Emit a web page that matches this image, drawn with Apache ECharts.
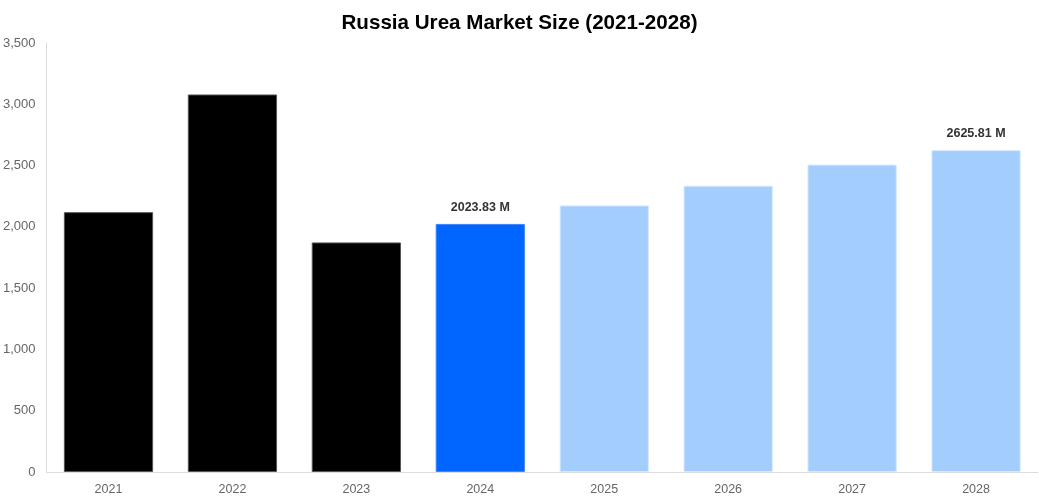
<!DOCTYPE html>
<html>
<head>
<meta charset="utf-8">
<script src="https://cdn.jsdelivr.net/npm/echarts@6/dist/echarts.min.js"></script>
<style>
  html, body { margin: 0; padding: 0; background: #fff; }
  #chart { width: 1039px; height: 500px; }
</style>
</head>
<body>
<div id="chart"></div>
<script>
// data
var years = ['2021', '2022', '2023', '2024', '2025', '2026', '2027', '2028'];
var values = [2120, 3080, 1873, 2023.83, 2175, 2336, 2508, 2625.81];
var yTicks = [0, 500, 1000, 1500, 2000, 2500, 3000, 3500];
var labelled = ['2024', '2028'];

var colorFor = function (i) {
    if (i < 3) return { fill: '#000000', border: '#555555' };
    if (i === 3) return { fill: '#0066ff', border: '#3d86ff' };
    return { fill: '#a2cdfd', border: '#d6e9ff' };
};

var chart = echarts.init(document.getElementById('chart'));
var option = {
    animation: false,
    title: {
        text: 'Russia Urea Market Size (2021-2028)',
        left: 'center',
        top: 8,
        textStyle: { fontFamily: 'Liberation Sans, Arial, sans-serif', fontSize: 20.6, fontWeight: 'bold', color: '#000' }
    },
    grid: { left: 45, right: 1, top: 43, bottom: 28 },
    xAxis: {
        type: 'category',
        data: years,
        axisLine: { lineStyle: { color: '#dddddd' } },
        axisTick: { show: false },
        axisLabel: { color: '#666', fontSize: 12.5, fontFamily: 'Liberation Sans, Arial, sans-serif', margin: 11 }
    },
    yAxis: {
        type: 'value',
        min: yTicks[0],
        max: yTicks[yTicks.length - 1],
        interval: 500,
        axisLine: { show: true, lineStyle: { color: '#dddddd' } },
        axisTick: { show: false },
        splitLine: { show: false },
        axisLabel: {
            color: '#666', fontSize: 13, fontFamily: 'Liberation Sans, Arial, sans-serif', margin: 11,
            formatter: function (v) { return v.toLocaleString('en-US'); }
        }
    },
    series: [{
        type: 'bar',
        barWidth: '72%',
        data: values.map(function (v, i) {
            var c = colorFor(i);
            var item = {
                value: v,
                itemStyle: { color: c.fill, borderColor: c.border, borderWidth: 1 }
            };
            if (labelled.indexOf(years[i]) >= 0) {
                item.label = {
                    show: true,
                    position: 'top',
                    distance: 10,
                    formatter: function (p) { return p.value.toFixed(2) + ' M'; },
                    fontFamily: 'Liberation Sans Narrow, Liberation Sans, Arial, sans-serif',
                    fontWeight: 'bold',
                    fontSize: 12.5,
                    color: '#333'
                };
            }
            return item;
        })
    }]
};
chart.setOption(option);
window.addEventListener('resize', function () { chart.resize(); });
</script>
</body>
</html>
